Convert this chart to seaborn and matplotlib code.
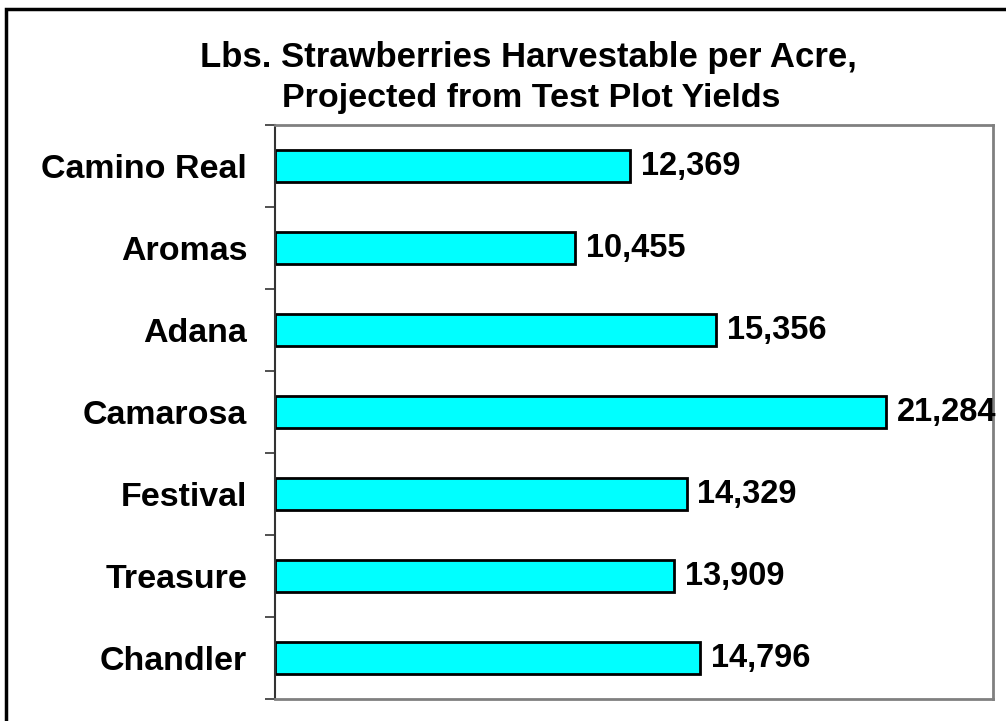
import matplotlib
matplotlib.use("Agg")
import matplotlib.pyplot as plt
import seaborn as sns
import pandas as pd
from matplotlib.patches import Rectangle
from matplotlib.ticker import FixedLocator

varieties = ["Camino Real", "Aromas", "Adana", "Camarosa", "Festival", "Treasure", "Chandler"]
yields = [12369, 10455, 15356, 21284, 14329, 13909, 14796]
title_lines = ["Lbs. Strawberries Harvestable per Acre,", "Projected from Test Plot Yields"]

sns.set_style("white")
plt.rcParams['font.family'] = ['Liberation Sans', 'DejaVu Sans']
plt.rcParams['text.color'] = 'black'
plt.rcParams['ytick.color'] = 'black'

df = pd.DataFrame({"variety": varieties, "yield": yields})

fig = plt.figure(figsize=(10.06, 7.21), dpi=100)
ax = fig.add_axes([275/1006, 1 - 699/721, (993-275)/1006, (699-125)/721])

sns.barplot(data=df, y="variety", x="yield", order=varieties, orient="h",
            color="#00FFFF", saturation=1, width=0.4, edgecolor="black",
            linewidth=2, ax=ax)

ax.set_xlim(0, 25000)
ax.set_ylim(len(varieties) - 0.5, -0.5)
ax.set_xlabel("")
ax.set_ylabel("")
ax.set_xticks([])

for i, v in enumerate(yields):
    ax.text(v + 380, i, f"{v:,}", va="center", ha="left",
            fontsize=23.5, fontweight="bold", color="black", zorder=5)

ax.tick_params(axis="y", which="major", length=0, pad=20, labelsize=24.5,
               labelcolor="black")
for lbl in ax.get_yticklabels():
    lbl.set_fontweight("bold")
ax.yaxis.set_minor_locator(FixedLocator([i - 0.5 for i in range(len(varieties) + 1)]))
ax.tick_params(axis="y", which="minor", length=7, width=1.2, color="#333333", left=True)

for side in ["top", "right", "bottom"]:
    ax.spines[side].set_color("#808080")
    ax.spines[side].set_linewidth(2)
ax.spines["left"].set_color("#333333")
ax.spines["left"].set_linewidth(1.5)

fig.text(528/1006, 1 - 57/721, title_lines[0], ha="center", va="center",
         fontsize=25, fontweight="bold", color="black")
fig.text(531/1006, 1 - 98/721, title_lines[1], ha="center", va="center",
         fontsize=24.5, fontweight="bold", color="black")

fig.patches.append(Rectangle((6/1006, -0.1), 1.2, 1 - 9/721 + 0.1,
                             transform=fig.transFigure, fill=False,
                             edgecolor="black", linewidth=2.5))

fig.savefig("out.png", dpi=100)
